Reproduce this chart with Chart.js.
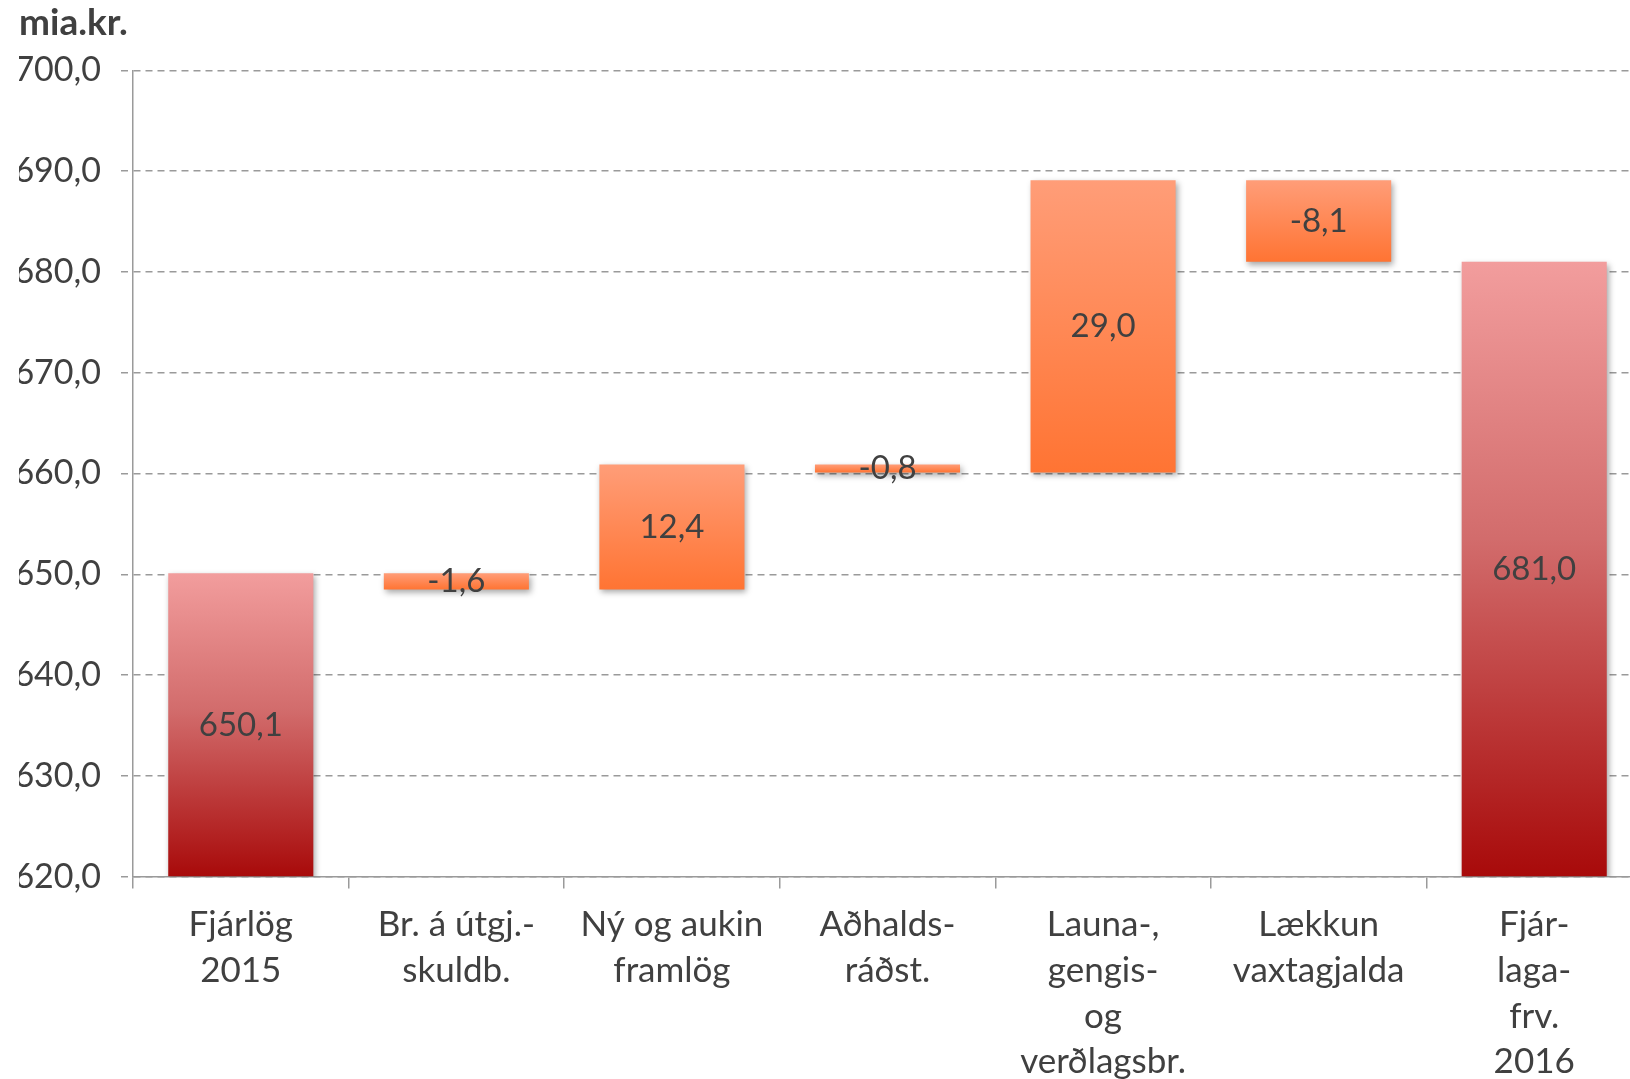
<!DOCTYPE html>
<html>
<head>
<meta charset="utf-8">
<script src="https://cdn.jsdelivr.net/npm/chart.js@4/dist/chart.umd.min.js"></script>
<style>
  html, body { margin: 0; padding: 0; background: #fff; overflow: hidden; }
  #wrap { width: 1642px; height: 1098px; }
</style>
</head>
<body>
<div id="wrap"><canvas id="chart"></canvas></div>
<script>
const categories = [
  ['Fjárlög', '2015'],
  ['Br. á útgj.-', 'skuldb.'],
  ['Ný og aukin', 'framlög'],
  ['Aðhalds-', 'ráðst.'],
  ['Launa-,', 'gengis-', 'og', 'verðlagsbr.'],
  ['Lækkun', 'vaxtagjalda'],
  ['Fjár-', 'laga-', 'frv.', '2016']
];
const totals  = [650.1, null, null, null, null, null, 681.0];
const changes = [null, -1.6, 12.4, -0.8, 29.0, -8.1, null];
const yMin = 620, yMax = 700, yStep = 10;

// Build floating [low, high] ranges for the waterfall
const ranges = [];
let running = 0;
categories.forEach((c, i) => {
  if (totals[i] !== null) {
    ranges.push([yMin, totals[i]]);
    running = totals[i];
  } else {
    const next = running + changes[i];
    ranges.push([Math.min(running, next), Math.max(running, next)]);
    running = next;
  }
});
const labelValues = categories.map((c, i) => totals[i] !== null ? totals[i] : changes[i]);

const fmt = v => v.toFixed(1).replace('.', ',');
const FONT = 'Lato, "Open Sans", sans-serif';
const TEXT = '#404040';
const GRID = '#9a9a9a';

function barFill(ctx) {
  const chart = ctx.chart;
  const isTotal = totals[ctx.dataIndex] !== null;
  if (!chart.chartArea || ctx.type !== 'data') return isTotal ? '#d06060' : '#ff8a55';
  const r = ranges[ctx.dataIndex];
  const y = chart.scales.y;
  const top = y.getPixelForValue(r[1]);
  const bot = y.getPixelForValue(r[0]);
  const g = chart.ctx.createLinearGradient(0, top, 0, bot);
  if (isTotal) {
    g.addColorStop(0, '#f29d9d');
    g.addColorStop(0.45, '#d26c6c');
    g.addColorStop(1, '#a80a0a');
  } else {
    g.addColorStop(0, '#ff9d78');
    g.addColorStop(1, '#ff7433');
  }
  return g;
}

const barShadow = {
  id: 'barShadow',
  beforeDatasetDraw(chart) {
    const c = chart.ctx;
    c.save();
    c.shadowColor = 'rgba(0,0,0,0.35)';
    c.shadowBlur = 6;
    c.shadowOffsetX = 2;
    c.shadowOffsetY = 3;
  },
  afterDatasetDraw(chart) {
    chart.ctx.restore();
  }
};

const valueLabels = {
  id: 'valueLabels',
  afterDatasetsDraw(chart) {
    const c = chart.ctx;
    const meta = chart.getDatasetMeta(0);
    c.save();
    c.font = '33px ' + FONT;
    c.fillStyle = TEXT;
    c.textAlign = 'center';
    c.textBaseline = 'middle';
    meta.data.forEach((el, i) => {
      c.fillText(fmt(labelValues[i]), el.x, (el.y + el.base) / 2);
    });
    c.restore();
  }
};

function drawChart() {
  new Chart(document.getElementById('chart'), {
    type: 'bar',
    data: {
      labels: categories,
      datasets: [{
        data: ranges,
        backgroundColor: barFill,
        borderWidth: 0,
        barPercentage: 0.673,
        categoryPercentage: 1
      }]
    },
    options: {
      responsive: true,
      maintainAspectRatio: false,
      animation: false,
      layout: { padding: { left: 19, right: 0, top: 0, bottom: 0 } },
      plugins: {
        legend: { display: false },
        tooltip: { enabled: false },
        title: {
          display: true,
          text: 'mia.kr.',
          align: 'start',
          color: TEXT,
          font: { family: FONT, size: 37, weight: 'bold', lineHeight: 1.2 },
          padding: { top: 1, bottom: 25 }
        }
      },
      scales: {
        x: {
          grid: {
            offset: true,
            drawOnChartArea: false,
            color: GRID,
            lineWidth: 1.5,
            tickLength: 12
          },
          border: { color: GRID, width: 1.5 },
          ticks: {
            color: TEXT,
            padding: 13,
            maxRotation: 0,
            autoSkip: false,
            font: { family: FONT, size: 35, lineHeight: 1.31 }
          }
        },
        y: {
          min: yMin,
          max: yMax,
          afterFit: scale => { scale.width = 114; },
          grid: {
            color: GRID,
            lineWidth: 1.5,
            tickLength: 12,
            tickBorderDash: [7, 5]
          },
          border: { color: GRID, width: 1.5, dash: [7, 5] },
          ticks: {
            stepSize: yStep,
            color: TEXT,
            padding: 20,
            font: { family: FONT, size: 34 },
            callback: v => fmt(v)
          }
        }
      }
    },
    plugins: [barShadow, valueLabels]
  });
}

// make sure Lato is ready before Chart.js measures text
Promise.all([
  document.fonts.load('34px Lato'),
  document.fonts.load('bold 37px Lato')
]).then(drawChart, drawChart);
</script>
</body>
</html>
